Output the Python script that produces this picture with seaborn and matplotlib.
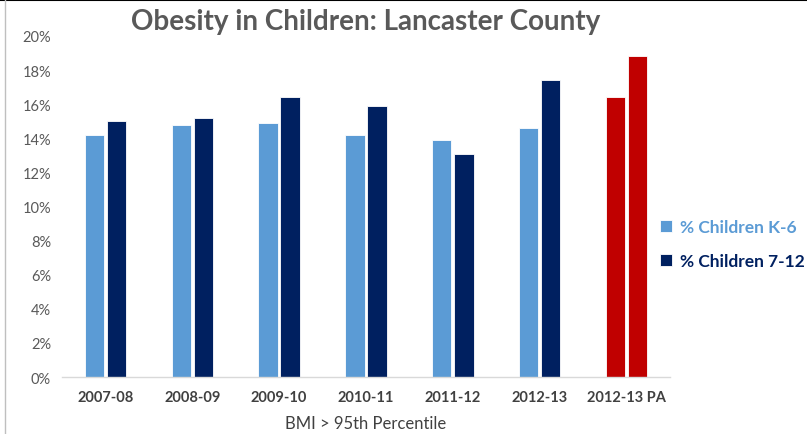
import matplotlib
matplotlib.use("Agg")
import matplotlib.pyplot as plt
from matplotlib.lines import Line2D
import pandas as pd
import seaborn as sns

# values (percent)
years = ["2007-08", "2008-09", "2009-10", "2010-11", "2011-12", "2012-13", "2012-13 PA"]
k6 = [14.2, 14.8, 14.9, 14.2, 13.9, 14.6, 16.4]
g712 = [15.0, 15.2, 16.4, 15.9, 13.1, 17.4, 18.8]
groups = ["% Children K-6", "% Children 7-12"]

df = pd.DataFrame({
    "year": years * 2,
    "group": [groups[0]] * len(years) + [groups[1]] * len(years),
    "pct": k6 + g712,
})

light = "#5B9BD5"
dark = "#002060"
red = "#C00000"

sns.set_style("white")
plt.rcParams['font.family'] = ['Lato', 'DejaVu Sans']

fig = plt.figure(figsize=(8.07, 4.35), dpi=100)
ax = fig.add_axes([0.077, 0.131, 0.753, 0.784])

sns.barplot(data=df, x="year", y="pct", hue="group", order=years, hue_order=groups,
            palette=[light, dark], saturation=1, width=0.51, gap=0.12, edgecolor="white",
            linewidth=0.6, legend=True, ax=ax)

# the PA comparison bars are red in the original
for c in ax.containers:
    c.patches[-1].set_facecolor(red)

ax.set_ylim(0, 20)
ax.set_xlim(-0.5, 6.5)
ax.set_yticks(range(0, 21, 2))
ax.set_yticklabels([f"{v}%" for v in range(0, 21, 2)], color="#595959", fontsize=10.5)
ax.tick_params(axis="x", length=0, pad=9)
ax.tick_params(axis="y", length=0, pad=8)
for t in ax.get_xticklabels():
    t.set_fontweight("bold")
    t.set_color("#404040")
    t.set_fontsize(10.5)

for s in ["top", "right", "left"]:
    ax.spines[s].set_visible(False)
ax.spines["bottom"].set_color("#D9D9D9")
ax.spines["bottom"].set_linewidth(1)

ax.set_xlabel("BMI > 95th Percentile", color="#404040", fontsize=12, labelpad=8)
ax.set_ylabel("")
ax.set_title("Obesity in Children: Lancaster County", fontsize=20, fontweight="bold",
             color="#595959", pad=5)

leg = ax.legend(loc="center left", bbox_to_anchor=(0.818, 0.437), bbox_transform=fig.transFigure,
                frameon=False, fontsize=12.5, handlelength=0.7, handleheight=0.7,
                handletextpad=0.45, labelspacing=1.05, borderpad=0, borderaxespad=0)
for txt, col in zip(leg.get_texts(), [light, dark]):
    txt.set_color(col)
    txt.set_fontweight("bold")

# image frame lines seen in the screenshot
fig.add_artist(Line2D([0, 1], [0.997, 0.997], transform=fig.transFigure, color="black", lw=1.5))
fig.add_artist(Line2D([0.006, 0.006], [0, 1], transform=fig.transFigure, color="#BFBFBF", lw=1))

fig.savefig("out.png", dpi=100)
